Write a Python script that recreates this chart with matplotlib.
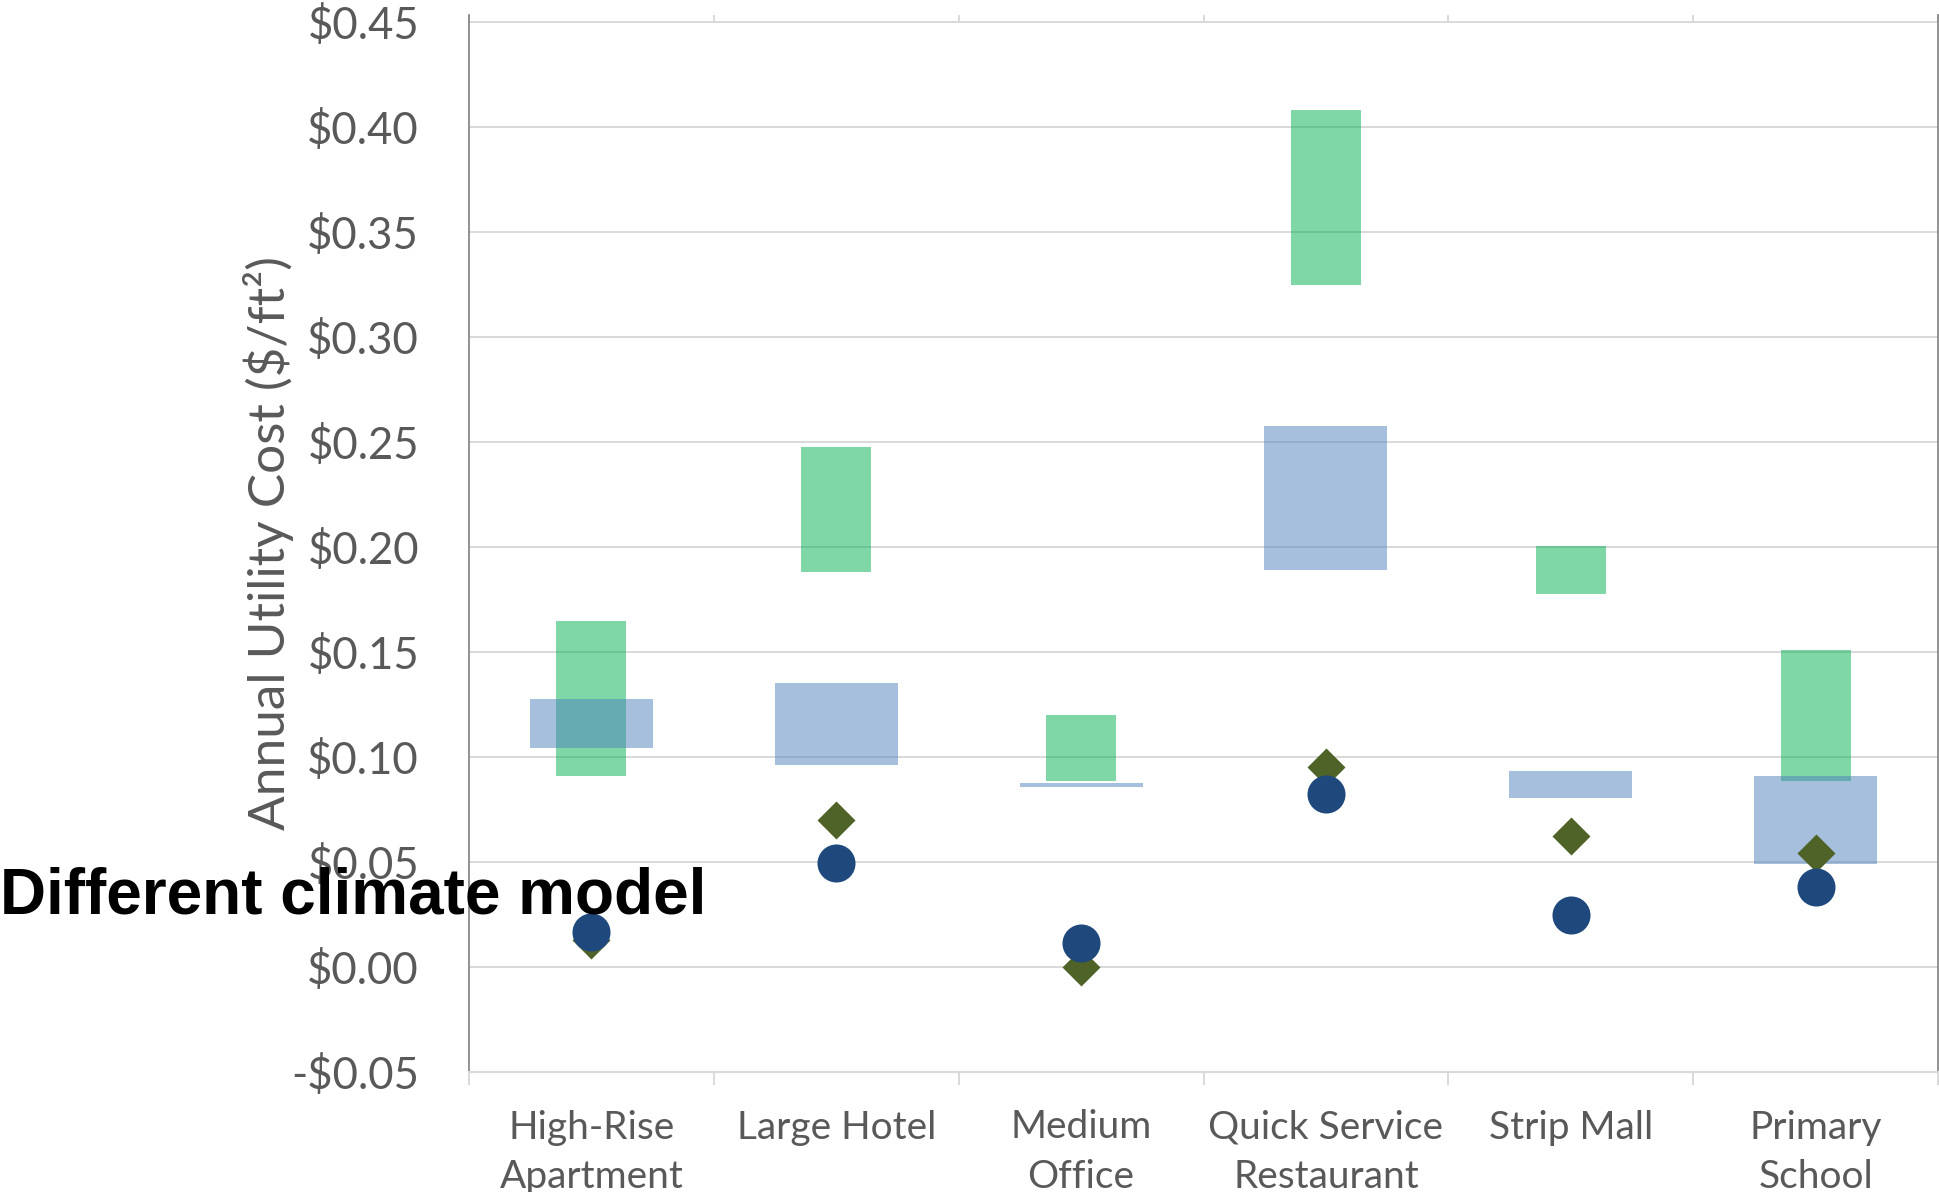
import numpy as np
import matplotlib
matplotlib.use("Agg")
import matplotlib.pyplot as plt
from matplotlib.ticker import MultipleLocator, FuncFormatter

plt.rcParams['font.family'] = ['Lato', 'DejaVu Sans']

# building types and annual utility cost values ($/ft2)
buildings = ["High-Rise\nApartment", "Large Hotel", "Medium\nOffice",
             "Quick Service\nRestaurant", "Strip Mall", "Primary\nSchool"]
green_lo = [0.091, 0.188, 0.0887, 0.3248, 0.1778, 0.0887]
green_hi = [0.1646, 0.2478, 0.1201, 0.408, 0.2003, 0.151]
blue_lo = [0.1043, 0.0962, 0.0857, 0.189, 0.0803, 0.049]
blue_hi = [0.1276, 0.1351, 0.0876, 0.2576, 0.0933, 0.0908]
diamond_vals = [0.013, 0.070, 0.0, 0.0953, 0.0624, 0.0543]
circle_vals = [0.0168, 0.0497, 0.0116, 0.0823, 0.0248, 0.0381]

W, H = 1939, 1192
fig = plt.figure(figsize=(W / 100, H / 100), dpi=100)
ax = fig.add_axes([469 / W, 1 - 1072 / H, (1938 - 469) / W, (1072 - 15) / H])

x = np.arange(len(buildings))
g_lo, g_hi = np.array(green_lo), np.array(green_hi)
b_lo, b_hi = np.array(blue_lo), np.array(blue_hi)

ax.bar(x, g_hi - g_lo, bottom=g_lo, width=0.286, color='#00B050', alpha=0.5,
       linewidth=0, zorder=2)
ax.bar(x, b_hi - b_lo, bottom=b_lo, width=0.502, color='#4F81BD', alpha=0.5,
       linewidth=0, zorder=3)
ax.plot(x, diamond_vals, ls='none', marker='D', ms=19, color='#4F6228',
        mec='none', zorder=4)
ax.plot(x, circle_vals, ls='none', marker='o', ms=27.4, color='#1F497D',
        mec='none', zorder=5)

ax.set_xlim(-0.5, len(buildings) - 0.5)
ax.set_ylim(-0.05, 0.4533)

# y axis: dollar labels, light horizontal grid
ax.yaxis.set_major_locator(MultipleLocator(0.05))
ax.yaxis.set_major_formatter(FuncFormatter(
    lambda v, p: f"-${abs(v):.2f}" if v < -1e-9 else f"${abs(v):.2f}"))
ax.tick_params(axis='y', length=0, pad=36, labelsize=31.5, labelcolor='#595959')
ax.yaxis.grid(True, color='#d9d9d9', linewidth=1.4)
ax.set_axisbelow(True)
ax.set_ylabel("Annual Utility Cost ($/ft²)", fontsize=37, color='#595959',
              va='center')
ax.yaxis.set_label_coords((268 - 469) / (1938 - 469), 0.5)

# x axis: labels at category centres, tick marks at category boundaries
ax.set_xticks(x)
ax.set_xticklabels(buildings)
ax.set_xticks(np.arange(-0.5, len(buildings)), minor=True)
ax.tick_params(axis='x', which='major', length=0, pad=27, labelsize=28,
               labelcolor='#595959')
ax.tick_params(axis='x', which='minor', length=9.4, width=1.4,
               color='#d9d9d9', direction='out')
for lbl in ax.get_xticklabels():
    lbl.set_linespacing(1.45)

top = ax.secondary_xaxis('top')
top.set_xticks(np.arange(-0.5, len(buildings)))
top.set_xticklabels([])
top.tick_params(direction='in', length=5.5, width=1.4, color='#d9d9d9')
top.spines['top'].set_visible(False)

ax.spines['top'].set_visible(False)
ax.spines['left'].set_color('#7f7f7f')
ax.spines['left'].set_linewidth(1.2)
ax.spines['right'].set_color('#7f7f7f')
ax.spines['right'].set_linewidth(1.2)
ax.spines['bottom'].set_color('#d9d9d9')
ax.spines['bottom'].set_linewidth(1.6)

fig.text(0, 1 - 913 / H, "Different climate model", fontsize=46,
         fontweight='bold', family=['Liberation Sans', 'DejaVu Sans'],
         color='black', ha='left', va='baseline')

fig.savefig("out.png", dpi=100)
